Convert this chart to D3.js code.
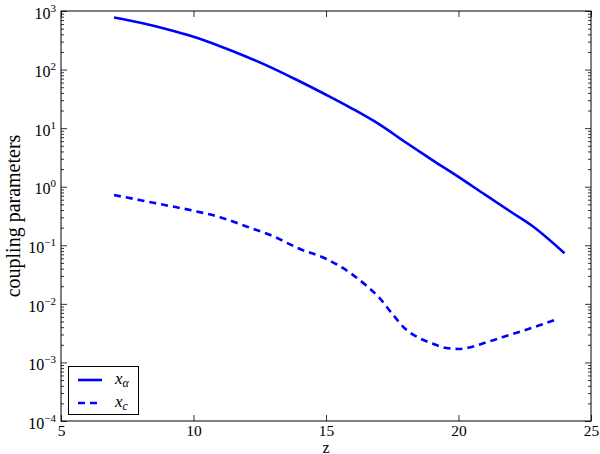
<!DOCTYPE html>
<html><head><meta charset="utf-8">
<script src="https://cdn.jsdelivr.net/npm/d3@7"></script>
<style>body{margin:0;background:#fff}svg{display:block}</style>
</head><body>
<svg id="c" width="600" height="454" font-family="'Liberation Serif', 'Times New Roman', serif"></svg>
<script>
// data
const zAlpha = [7, 8, 9, 10, 11, 12, 13, 14, 15, 16, 17, 18, 19, 20, 21, 22, 22.8, 24];
const xAlpha = [776, 631, 490, 363, 251, 166, 105, 63.1, 37.2, 21.4, 11.7, 5.75, 2.88, 1.47, 0.731, 0.366, 0.211, 0.073];
const zC = [7, 8, 9, 10, 11, 12, 13, 14, 15, 16, 16.5, 17, 17.5, 18, 18.5, 19, 19.5, 20, 20.5, 21, 22, 23, 23.7];
const xC = [0.721, 0.589, 0.479, 0.389, 0.302, 0.209, 0.143, 0.0871, 0.0589, 0.0316, 0.0209, 0.0129, 0.00676, 0.00372, 0.00263, 0.00211, 0.00178, 0.00170, 0.00184, 0.00216, 0.00302, 0.00422, 0.00545];
const xTicks = [5, 10, 15, 20, 25];
const yExponents = [-4, -3, -2, -1, 0, 1, 2, 3];
const legendSubs = ["α", "c"];
const xLabel = "z";
const yLabel = "coupling parameters";

const FONT = "'Liberation Serif', 'Times New Roman', serif";
const svg = d3.select("#c");
const L = 61, R = 591, T = 11, B = 421;
const x = d3.scaleLinear().domain([5, 25]).range([L, R]);
const y = d3.scaleLog().domain([1e-4, 1e3]).range([B, T]);
const minors = [];
yExponents.slice(0, -1).forEach(e => { for (let k = 2; k <= 9; k++) minors.push(k * Math.pow(10, e)); });
const majors = yExponents.map(e => Math.pow(10, e));

function styleAxis(g) {
  g.attr("font-family", FONT);
  g.select(".domain").remove();
  g.selectAll("line").attr("stroke", "#000").attr("stroke-width", 0.8);
}
// bottom
svg.append("g").attr("transform", `translate(0,${B})`)
  .call(d3.axisBottom(x).tickValues(xTicks).tickSize(-6).tickPadding(4).tickFormat(d3.format("d")))
  .call(styleAxis)
  .call(g => g.selectAll("text").attr("font-size", 15.5).attr("fill", "#000"));
// top
svg.append("g").attr("transform", `translate(0,${T})`)
  .call(d3.axisTop(x).tickValues(xTicks).tickSize(-6).tickFormat(""))
  .call(styleAxis);
// left major
svg.append("g").attr("transform", `translate(${L},0)`)
  .call(d3.axisLeft(y).tickValues(majors).tickSize(-6).tickPadding(5).tickFormat(() => ""))
  .call(styleAxis)
  .call(g => g.selectAll("text").attr("font-size", 16).attr("fill", "#000").attr("dy", "0.45em").each(function(d) {
    const t = d3.select(this);
    const e = Math.round(Math.log10(d));
    t.append("tspan").text("10");
    t.append("tspan").attr("dy", -7).attr("font-size", 11).text(e < 0 ? "\u2212" + (-e) : String(e));
  }));
// left minor
svg.append("g").attr("transform", `translate(${L},0)`)
  .call(d3.axisLeft(y).tickValues(minors).tickSize(-3).tickFormat(""))
  .call(styleAxis);
// right major/minor
svg.append("g").attr("transform", `translate(${R},0)`)
  .call(d3.axisRight(y).tickValues(majors).tickSize(-6).tickFormat(""))
  .call(styleAxis);
svg.append("g").attr("transform", `translate(${R},0)`)
  .call(d3.axisRight(y).tickValues(minors).tickSize(-3).tickFormat(""))
  .call(styleAxis);

// lines
const lineGen = d3.line().x(d => x(d[0])).y(d => y(d[1])).curve(d3.curveMonotoneX);
svg.append("path").datum(zAlpha.map((z, i) => [z, xAlpha[i]]))
  .attr("d", lineGen).attr("fill", "none").attr("stroke", "#0000ff").attr("stroke-width", 2.6);
svg.append("path").datum(zC.map((z, i) => [z, xC[i]]))
  .attr("d", lineGen).attr("fill", "none").attr("stroke", "#0000ff").attr("stroke-width", 2.6)
  .attr("stroke-dasharray", "7,5");

// frame
svg.append("rect").attr("x", L).attr("y", T).attr("width", R - L).attr("height", B - T)
  .attr("fill", "none").attr("stroke", "#000").attr("stroke-width", 1);

// axis labels
svg.append("text").attr("x", (L + R) / 2).attr("y", 452.5).attr("text-anchor", "middle")
  .attr("font-size", 16).text(xLabel);
svg.append("text").attr("transform", `translate(20,${(T + B) / 2}) rotate(-90)`).attr("text-anchor", "middle")
  .attr("font-size", 20).text(yLabel);

// legend
const lg = svg.append("g");
lg.append("rect").attr("x", 68.5).attr("y", 366.5).attr("width", 70).attr("height", 48)
  .attr("fill", "#fff").attr("stroke", "#000").attr("stroke-width", 1);
legendSubs.forEach((s, i) => {
  const yy = 380 + i * 23;
  lg.append("line").attr("x1", 78).attr("x2", 102).attr("y1", yy).attr("y2", yy)
    .attr("stroke", "#0000ff").attr("stroke-width", 2.6)
    .attr("stroke-dasharray", i === 1 ? "7,5" : null);
  const t = lg.append("text").attr("x", 115).attr("y", yy + 4).attr("font-size", 17).attr("font-style", "italic");
  t.append("tspan").text("x");
  t.append("tspan").attr("dy", 3).attr("font-size", 12).text(s);
});
</script>
</body></html>
